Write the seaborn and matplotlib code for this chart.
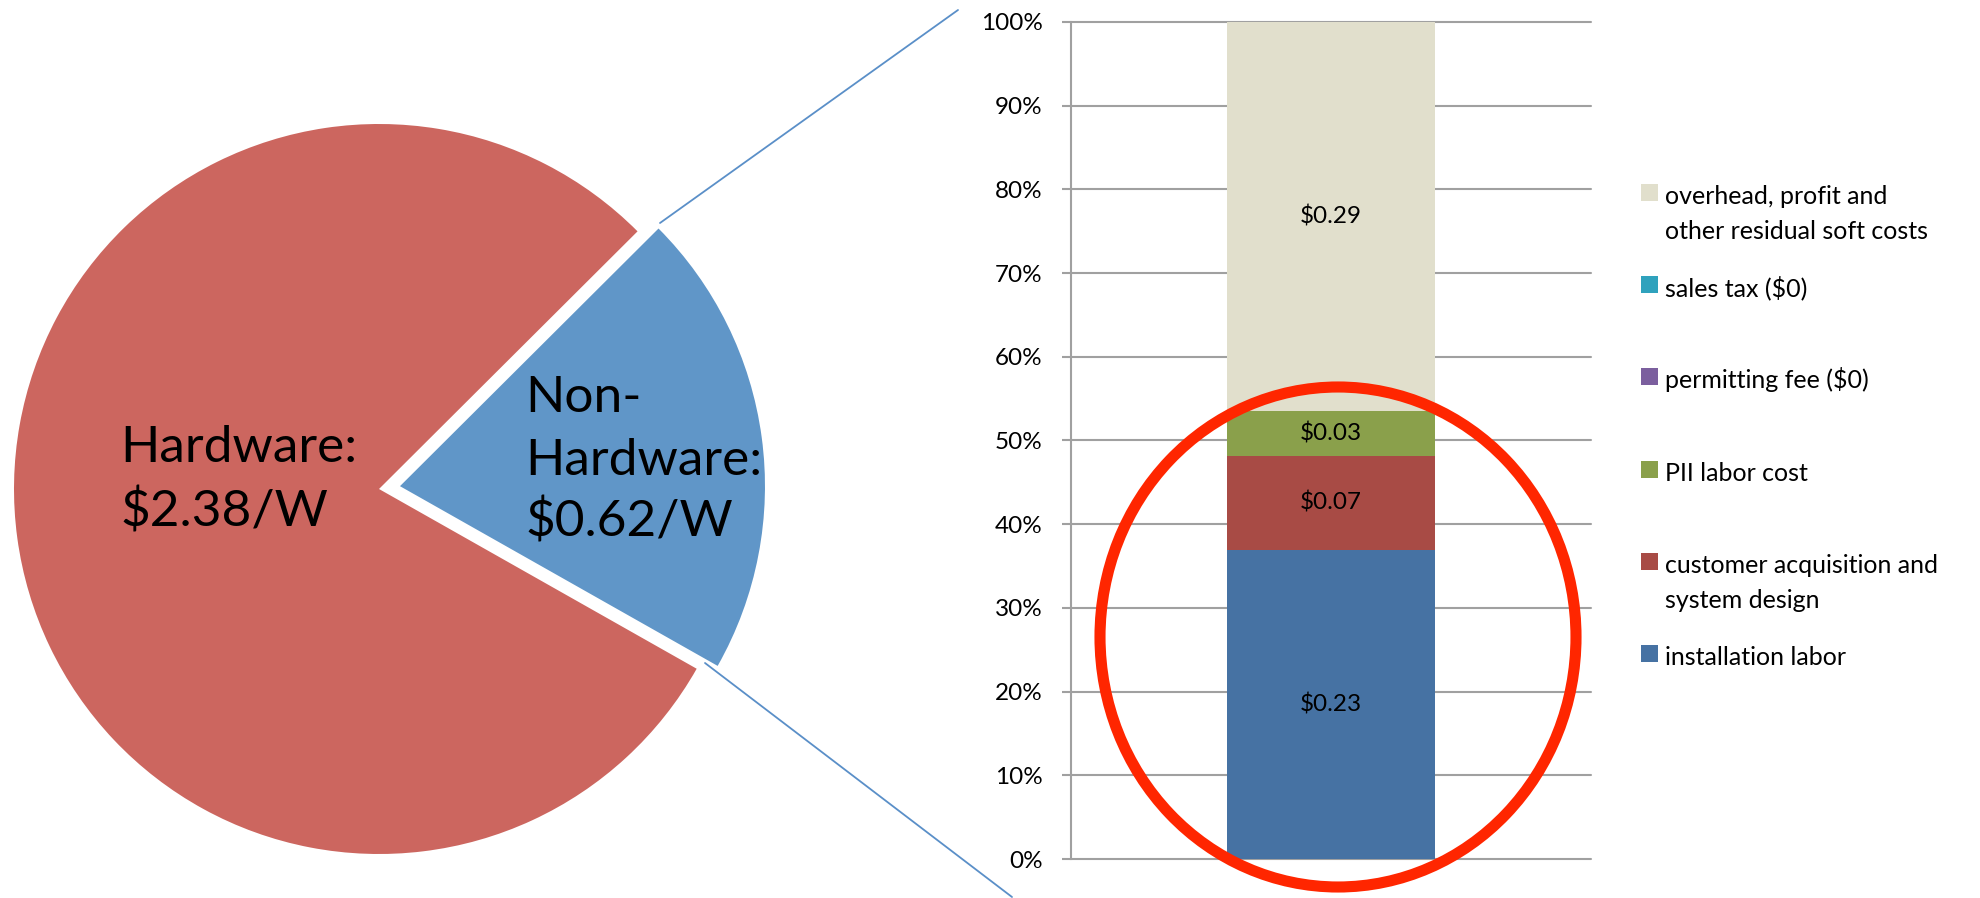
import numpy as np
import pandas as pd
import matplotlib.pyplot as plt
import seaborn as sns
from matplotlib.patches import Ellipse, Rectangle
from matplotlib.lines import Line2D

# pie: hardware vs non-hardware cost ($/W)
pie_labels = ["Non-Hardware", "Hardware"]
pie_values = [0.62, 2.38]
pie_colors = ["#6096C8", "#CC665F"]

# stacked bar: share of non-hardware cost (%), listed bottom to top
components = [
    "installation labor",
    "customer acquisition and\nsystem design",
    "PII labor cost",
    "permitting fee ($0)",
    "sales tax ($0)",
    "overhead, profit and\nother residual soft costs",
]
shares = [36.9, 11.3, 5.3, 0.0, 0.0, 46.5]
costs = ["$0.23", "$0.07", "$0.03", "", "", "$0.29"]
bar_colors = ["#4672A3", "#A84B45", "#8AA04B", "#7B5F9E", "#2FA2BD", "#E1DFCC"]
y_ticks = list(range(0, 101, 10))

W, H = 1980, 898


def fx(x):
    return x / W


def fy(y):
    return 1 - y / H


sns.set_style("white")
plt.rcParams["font.family"] = ["Lato", "DejaVu Sans"]
plt.rcParams["text.parse_math"] = False
plt.rcParams["text.color"] = "black"

fig = plt.figure(figsize=(19.8, 8.98), dpi=100)

# --- pie on the left ---
cx, cy, r, half = 379, 489, 365, 420
ax_pie = fig.add_axes([fx(cx - half), fy(cy + half), 2 * half / W, 2 * half / H])
wedges, _ = ax_pie.pie(pie_values, colors=pie_colors, startangle=-29.5,
                       explode=[0.058, 0], radius=1, wedgeprops=dict(linewidth=0))
lim = half / r
ax_pie.set_xlim(-lim, lim)
ax_pie.set_ylim(-lim, lim)
ax_pie.axis("off")

pie_font = 37
fig.text(fx(120), fy(462), "Hardware:", fontsize=pie_font, va="baseline")
fig.text(fx(120), fy(527), "$2.38/W", fontsize=pie_font, va="baseline")
fig.text(fx(525), fy(412), "Non-", fontsize=pie_font, va="baseline")
fig.text(fx(525), fy(475), "Hardware:", fontsize=pie_font, va="baseline")
fig.text(fx(525), fy(537), "$0.62/W", fontsize=pie_font, va="baseline")

# connector lines from the slice to the bar
for (x0, y0), (x1, y1) in [((660, 223), (958, 10)), ((705, 663), (1012, 897))]:
    fig.add_artist(Line2D([fx(x0), fx(x1)], [fy(y0), fy(y1)], color="#5A8FC8",
                          linewidth=1.3, transform=fig.transFigure))

# --- stacked 100% bar on the right ---
ax = fig.add_axes([fx(1071), fy(859), (1591 - 1071) / W, (859 - 22) / H])
df = pd.DataFrame({"component": components, "share": shares, "cost": costs, "color": bar_colors})
df["top"] = df["share"].cumsum()
df["bottom"] = df["top"] - df["share"]

for _, row in df[df["share"] > 0].iloc[::-1].iterrows():
    sns.barplot(x=["all"], y=[row["top"]], color=row["color"], width=0.8,
                saturation=1, errorbar=None, linewidth=0, ax=ax)

for _, row in df[df["share"] > 0].iterrows():
    ax.text(0, row["bottom"] + row["share"] / 2, row["cost"], ha="center", va="center",
            fontsize=17.5, color="black")

ax.set_xlim(-1, 1)
ax.set_ylim(0, 100)
ax.set_yticks(y_ticks)
ax.set_yticklabels([f"{t}%" for t in y_ticks])
ax.set_xticks([])
ax.set_xlabel("")
ax.set_ylabel("")
ax.yaxis.grid(True, color="#A0A0A0", linewidth=1.5)
ax.set_axisbelow(True)
ax.tick_params(axis="y", left=True, length=6.5, width=1.5, color="#A0A0A0",
               pad=14, labelsize=17.5, labelcolor="black")
sns.despine(ax=ax, top=True, right=True, bottom=True)
ax.spines["left"].set_color("#A0A0A0")
ax.spines["left"].set_linewidth(1.5)
for gl in ax.get_ygridlines():
    gl.set_clip_on(False)

# red highlight ellipse
fig.add_artist(Ellipse((fx(1338), fy(637)), width=476 / W, height=500 / H, fill=False,
                       edgecolor="#FF2600", linewidth=8, transform=fig.transFigure))

# legend, top entry first
for i, (label, color) in enumerate(zip(components[::-1], bar_colors[::-1])):
    yc = 192.5 + 92.2 * i
    fig.add_artist(Rectangle((fx(1641), fy(yc + 8.5)), 17 / W, 17 / H, facecolor=color,
                             edgecolor="none", transform=fig.transFigure))
    for j, line in enumerate(label.split("\n")):
        fig.text(fx(1665), fy(yc + 11.5 + 35 * j), line, fontsize=18, va="baseline")

fig.savefig("out.png", dpi=100)
